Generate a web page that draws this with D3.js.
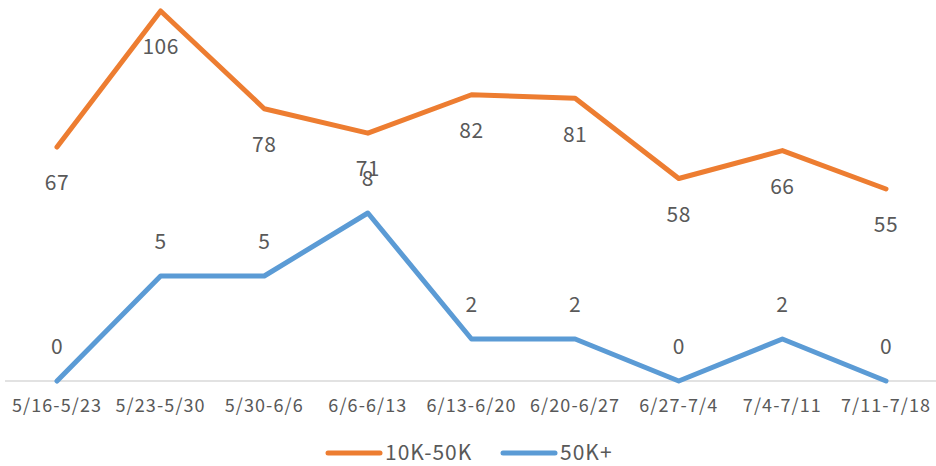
<!DOCTYPE html>
<html>
<head>
<meta charset="utf-8">
<script src="https://cdn.jsdelivr.net/npm/d3@7"></script>
<style>
  body { margin: 0; background: #fff; }
  svg text { font-family: "Noto Sans CJK SC", "Noto Sans", sans-serif; fill: #595959; }
</style>
</head>
<body>
<div id="chart"></div>
<script>
const weeks = ['5/16-5/23', '5/23-5/30', '5/30-6/6', '6/6-6/13', '6/13-6/20', '6/20-6/27', '6/27-7/4', '7/4-7/11', '7/11-7/18'];
const mid = [67, 106, 78, 71, 82, 81, 58, 66, 55];   // 10K-50K
const high = [0, 5, 5, 8, 2, 2, 0, 2, 0];            // 50K+
const seriesNames = ['10K-50K', '50K+'];
const colors = ['#ED7D31', '#5B9BD5'];

const width = 936, height = 466;
const baseY = 381;

const svg = d3.select('#chart').append('svg')
  .attr('width', width)
  .attr('height', height);

const x = d3.scalePoint().domain(weeks).range([57, 886]);

// two value axes, neither drawn
const yMid = d3.scaleLinear().domain([0, 110]).range([baseY, -3]);
const yHigh = d3.scaleLinear().domain([0, 18]).range([baseY, 3]);

// category axis
svg.append('line')
  .attr('x1', 5).attr('x2', 936)
  .attr('y1', baseY).attr('y2', baseY)
  .attr('stroke', '#d9d9d9').attr('stroke-width', 1.5);

svg.selectAll('.tick-label')
  .data(weeks).enter().append('text')
    .attr('class', 'tick-label')
    .attr('x', d => x(d))
    .attr('y', 412)
    .attr('text-anchor', 'middle')
    .style('font-size', '18px')
    .style('letter-spacing', '1.1px')
    .text(d => d);

const series = [
  { name: seriesNames[0], values: mid, y: yMid, color: colors[0], dy: 36 },
  { name: seriesNames[1], values: high, y: yHigh, color: colors[1], dy: -34 }
];

series.forEach(function(s) {
  const line = d3.line()
    .x((d, i) => x(weeks[i]))
    .y(d => s.y(d));

  svg.append('path')
    .datum(s.values)
    .attr('d', line)
    .attr('fill', 'none')
    .attr('stroke', s.color)
    .attr('stroke-width', 5)
    .attr('stroke-linejoin', 'round')
    .attr('stroke-linecap', 'round');

  svg.selectAll(null)
    .data(s.values).enter().append('text')
      .attr('x', (d, i) => x(weeks[i]))
      .attr('y', d => s.y(d) + s.dy)
      .attr('dy', '0.35em')
      .attr('text-anchor', 'middle')
      .style('font-size', '21px')
      .style('letter-spacing', '0.5px')
      .text(d => d);
});

// legend
const legend = svg.append('g').attr('transform', 'translate(0,453)');
const legendX = [328, 503];
series.forEach(function(s, i) {
  legend.append('line')
    .attr('x1', legendX[i]).attr('x2', legendX[i] + 52)
    .attr('y1', 0).attr('y2', 0)
    .attr('stroke', s.color)
    .attr('stroke-width', 5)
    .attr('stroke-linecap', 'round');
  legend.append('text')
    .attr('x', legendX[i] + 57)
    .attr('y', 0)
    .attr('dy', '0.35em')
    .style('font-size', '21px')
    .style('letter-spacing', '1px')
    .text(s.name);
});
</script>
</body>
</html>
